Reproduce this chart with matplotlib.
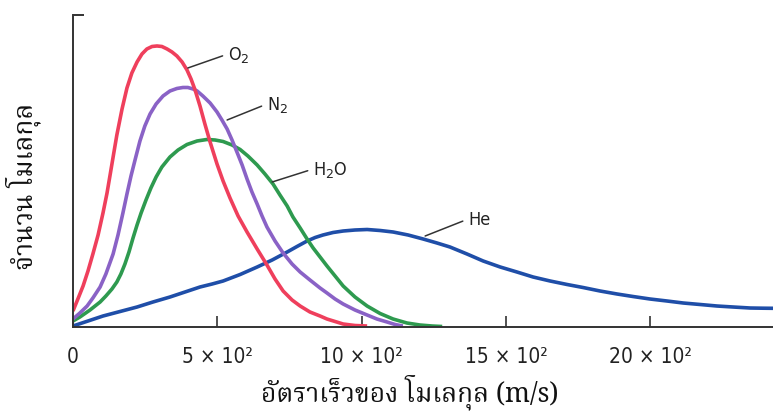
import matplotlib
matplotlib.use("Agg")
import matplotlib.pyplot as plt
from matplotlib import font_manager, ft2font

# speeds (m/s) and relative number of molecules
o2_v = [0, 17, 35, 52, 69, 87, 104, 118, 128, 142, 152, 170, 187, 204, 222,
        239, 256, 274, 291, 308, 326, 343, 360, 378, 395, 409, 423, 440, 457,
        475, 499, 520, 544, 572, 603, 638, 672, 700, 728, 759, 787, 821, 856,
        880, 936, 977, 1019]
o2_n = [16, 28, 41, 56, 73, 92, 114, 134, 151, 175, 192, 218, 239, 254, 265,
        273, 278, 280.5, 281, 280.5, 278, 275, 271, 265, 257, 248, 237, 221,
        203, 185, 163, 146, 129, 111, 95, 78, 62, 48, 36, 27, 21, 15, 11, 8, 3,
        1.5, 1]

n2_v = [0, 24, 49, 69, 94, 114, 139, 156, 173, 187, 201, 215, 232, 249, 267,
        288, 312, 336, 360, 381, 398, 416, 430, 450, 475, 499, 516, 534, 551,
        568, 586, 603, 620, 638, 655, 672, 700, 728, 759, 787, 821, 856, 880,
        908, 936, 977, 1019, 1053, 1088, 1116, 1143]
n2_n = [8, 14, 21, 29, 40, 53, 73, 92, 114, 133, 151, 167, 186, 201, 213,
        223, 231, 236, 238.5, 239.5, 239.5, 238, 236, 231, 224, 215, 207, 198,
        187, 175, 162, 148, 135, 123, 111, 100, 86, 74, 63, 55, 47, 39, 34, 28,
        23, 17, 12, 8, 5, 2.5, 1]

h2o_v = [0, 24, 59, 94, 114, 135, 152, 166, 180, 194, 208, 222, 236, 253, 270,
         288, 308, 336, 364, 395, 430, 464, 492, 520, 551, 579, 606, 638, 665,
         693, 717, 742, 762, 787, 811, 832, 856, 880, 908, 936, 977, 1019,
         1064, 1109, 1157, 1202, 1244, 1279]
h2o_n = [6, 10, 17, 25, 31, 38, 45, 53, 63, 75, 89, 102, 114, 127, 139, 150,
         160, 170, 177, 182.5, 186, 187.5, 187, 185.5, 182, 177.5, 171, 162,
         153, 143, 132, 121, 110, 99, 88, 79, 70, 61, 51, 41, 30, 21, 13.5, 8,
         4, 2, 1, 0.5]

he_v = [0, 52, 104, 163, 222, 277, 336, 388, 440, 482, 520, 579, 638, 690,
        742, 776, 811, 839, 866, 901, 936, 977, 1019, 1064, 1109, 1161, 1213,
        1261, 1306, 1365, 1421, 1480, 1538, 1594, 1653, 1712, 1767, 1826, 1885,
        1940, 1999, 2058, 2114, 2173, 2231, 2287, 2346, 2391, 2425]
he_n = [1, 6, 11, 15.5, 20, 25, 30, 35, 40, 43, 46, 52.5, 60, 67, 75, 80.5,
        86, 89.5, 92, 94.5, 96, 97, 97.5, 96.5, 95, 92, 88, 84, 80, 73, 66, 60,
        55, 50, 46, 42.5, 39.5, 36, 33, 30.5, 28, 26, 24, 22.5, 21, 20, 19,
        18.8, 18.7]

xticks = [0, 500, 1000, 1500, 2000]
xticklabels = ["0", "5 × 10²", "10 × 10²", "15 × 10²", "20 × 10²"]

ylabel = "จำนวน โมเลกุล"
xlabel = "อัตราเร็วของ โมเลกุล (m/s)"


def thai_font():
    found = []
    for f in font_manager.fontManager.ttflist:
        try:
            cmap = ft2font.FT2Font(f.fname).get_charmap()
        except Exception:
            continue
        if 0x0E08 in cmap and 0x0E33 in cmap:
            found.append(f.name)
    for pref in ["Norasi", "Kinnari", "Noto Serif Thai", "TlwgTypo", "Garuda",
                 "Loma", "Noto Sans Thai"]:
        if pref in found:
            return pref
    return found[0] if found else "DejaVu Sans"


names = {f.name for f in font_manager.fontManager.ttflist}
latin = "Liberation Sans Narrow" if "Liberation Sans Narrow" in names else "DejaVu Sans"
thai = thai_font()
plt.rcParams["mathtext.fontset"] = "dejavusans"

fig = plt.figure(figsize=(7.73, 4.14), dpi=100)
ax = fig.add_axes([0.0944, 0.2077, 0.9056, 0.7537])

style = dict(lw=2.6, solid_capstyle="butt", solid_joinstyle="round")
ax.plot(he_v, he_n, color="#1f4ea8", **style)
ax.plot(h2o_v, h2o_n, color="#2e9a4f", **style)
ax.plot(n2_v, n2_n, color="#8a62c6", **style)
ax.plot(o2_v, o2_n, color="#ef3f5c", **style)

ax.set_xlim(0, 2425)
ax.set_ylim(0, 312)

for s in ["top", "right"]:
    ax.spines[s].set_visible(False)
for s in ["left", "bottom"]:
    ax.spines[s].set_color("#333333")
    ax.spines[s].set_linewidth(1.4)

ax.set_xticks(xticks)
ax.set_xticklabels(xticklabels, fontsize=15, family=[latin, "DejaVu Sans"],
                   fontstretch="condensed", color="#222222")
ax.tick_params(axis="x", direction="in", length=8, width=1.2, color="#333333",
               pad=14)
ax.set_yticks([312])
ax.set_yticklabels([])
ax.tick_params(axis="y", direction="in", length=8, width=1.4, color="#333333")

# curve labels with leader lines
labels = [("O$_2$", (398, 259), (537, 273)),
          ("N$_2$", (534, 207), (672, 223)),
          ("H$_2$O", (690, 145), (832, 158)),
          ("He", (1220, 91), (1369, 108))]
for txt, xy, xyt in labels:
    ax.annotate(txt, xy=xy, xytext=xyt, ha="left", va="center", fontsize=13,
                family=[latin, "DejaVu Sans"], fontstretch="condensed",
                color="#222222",
                arrowprops=dict(arrowstyle="-", color="#333333", lw=1.1,
                                shrinkA=2, shrinkB=0, relpos=(0, 0.5)))

fig.text(0.53, 0.053, xlabel, ha="center", va="center", fontsize=19,
         family=[thai, "DejaVu Sans"], color="#111111")
fig.text(0.03, 0.55, ylabel, ha="center", va="center", rotation=90,
         fontsize=19, family=[thai, "DejaVu Sans"], color="#111111")

fig.savefig("out.png", dpi=100)
